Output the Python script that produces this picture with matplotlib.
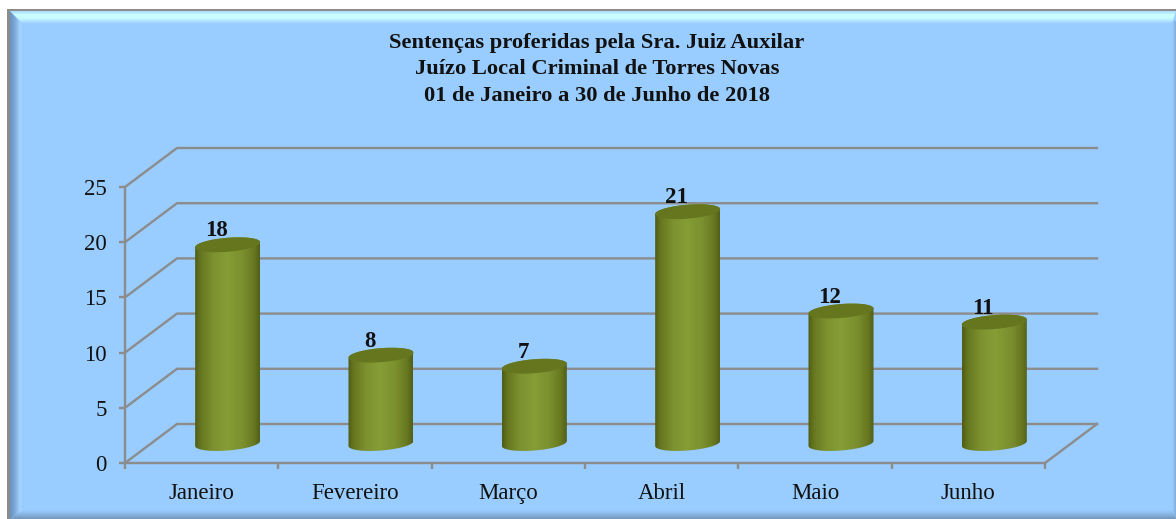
import numpy as np
import matplotlib
matplotlib.use("Agg")
import matplotlib.pyplot as plt
from matplotlib.patches import Rectangle, Polygon
from matplotlib.colors import LinearSegmentedColormap

months = ["Janeiro", "Fevereiro", "Março", "Abril", "Maio", "Junho"]
values = [18, 8, 7, 21, 12, 11]
yticks = [0, 5, 10, 15, 20, 25]
title = ("Sentenças proferidas pela Sra. Juiz Auxilar\n"
         "Juízo Local Criminal de Torres Novas\n"
         "01 de Janeiro a 30 de Junho de 2018")

W, H = 1176, 519
FONT = "Liberation Serif"
GRID = "#8c8c8c"
fig = plt.figure(figsize=(W / 100, H / 100), dpi=100, facecolor="white")

# background frame in pixel coordinates
bg = fig.add_axes([0, 0, 1, 1])
bg.set_xlim(0, W); bg.set_ylim(H, 0); bg.axis("off")
L, T, R, B = 10, 11, 1176, 519
bev = 13
bg.add_patch(Rectangle((7, 9), R - 7, B - 9, fc="#8c8c8c", ec="none", zorder=0))
bg.add_patch(Rectangle((L, T), R - L, B - T, fc="#99ccff", ec="none", zorder=1))
top = LinearSegmentedColormap.from_list("t", [(0, "#a8dcff"), (0.3, "#ccffff"), (0.6, "#c4f8ff"), (1, "#99ccff")])
left = LinearSegmentedColormap.from_list("l", [(0, "#6a94bf"), (0.35, "#7aa8d8"), (0.8, "#a4d4ff"), (1, "#99ccff")])
right = LinearSegmentedColormap.from_list("r", ["#99ccff", "#90c0f0", "#80acd8"])
bot = LinearSegmentedColormap.from_list("b", ["#99ccff", "#88b4e0", "#7396bb"])
im = bg.imshow(np.linspace(0, 1, 32)[None, :], extent=(L, L + bev, B, T), cmap=left, aspect="auto", zorder=2)
im.set_clip_path(Polygon([(L, T), (L + bev, T + bev), (L + bev, B - 9), (L, B)], transform=bg.transData))
im = bg.imshow(np.linspace(0, 1, 32)[:, None], extent=(L, R, T + bev, T), cmap=top, aspect="auto", zorder=3, origin="upper")
im.set_clip_path(Polygon([(L, T), (R, T), (R - 4, T + bev), (L + bev, T + bev)], transform=bg.transData))
im = bg.imshow(np.linspace(0, 1, 32)[:, None], extent=(L, R, B, B - 9), cmap=bot, aspect="auto", zorder=3, origin="upper")
im.set_clip_path(Polygon([(L, B), (L + bev, B - 9), (R - 4, B - 9), (R, B)], transform=bg.transData))
im = bg.imshow(np.linspace(0, 1, 32)[None, :], extent=(R - 4, R, B, T + 10), cmap=right, aspect="auto", zorder=2)
bg.set_xlim(0, W); bg.set_ylim(H, 0)

# plot axes: front plane of the 3D box
x0, x1, ytop, ybot = 125, 1045, 187, 463
ax = fig.add_axes([x0 / W, 1 - ybot / H, (x1 - x0) / W, (ybot - ytop) / H])
ax.patch.set_alpha(0)
for s in ax.spines.values():
    s.set_visible(False)

n = len(months)
px = n / (x1 - x0)
py = yticks[-1] / (ybot - ytop)
dx, dy = 52 * px, 39 * py   # depth offset
LW = 1.7

for v in yticks:
    ax.plot([0, dx, n + dx], [v, v + dy, v + dy], color=GRID, lw=LW, clip_on=False,
            solid_joinstyle="miter", zorder=1)
ax.plot([n, n + dx], [0, dy], color=GRID, lw=LW, clip_on=False, zorder=1)
ax.plot([0, n], [0, 0], color=GRID, lw=LW, clip_on=False, zorder=1)
ax.plot([0, 0], [0, yticks[-1]], color=GRID, lw=LW, clip_on=False, zorder=1)

ax.set_yticks(yticks)
ax.set_yticklabels([str(v) for v in yticks], family=FONT, fontsize=16.5, color="#111111")
ax.set_xticks(range(n + 1))
ax.set_xticklabels([""] * (n + 1))
ax.tick_params(axis="both", color=GRID, width=LW, length=4.5)
ax.tick_params(axis="y", pad=8.5)

for i, m in enumerate(months):
    ax.annotate(m, (i + 0.5, 0), xytext=(0, -22), textcoords="offset points",
                ha="center", va="center", family=FONT, fontsize=16.5, color="#111111", annotation_clip=False)

cyl = LinearSegmentedColormap.from_list("c", [(0, "#4f5c17"), (0.08, "#66761f"), (0.28, "#7d9130"),
                                             (0.50, "#869e36"), (0.75, "#7a8e2e"), (0.92, "#66761f"),
                                             (1, "#525f18")])
bw, eh, tilt = 65 * px, 14 * py, 5 * py   # body width, ellipse height, tilt
ang = np.linspace(0, 2 * np.pi, 73)


def rim(a, cx, cy):
    return cx + bw / 2 * np.cos(a), cy + eh / 2 * np.sin(a) + tilt / 2 * np.cos(a)


for i, v in enumerate(values):
    cx = i + 0.5 + dx / 2
    b, t = dy / 2, v + dy / 2
    xb, yb = rim(np.linspace(np.pi, 2 * np.pi, 40), cx, b)
    xt, yt = rim(np.linspace(0, np.pi, 40), cx, t)
    poly = Polygon(np.c_[np.r_[xb, xt], np.r_[yb, yt]], closed=True, transform=ax.transData,
                   fc="none", ec="none")
    ax.add_patch(poly)
    im = ax.imshow(np.linspace(0, 1, 128)[None, :], extent=(cx - bw / 2, cx + bw / 2, b - eh, t + eh),
                   cmap=cyl, aspect="auto", zorder=3)
    im.set_clip_path(poly)
    ex, ey = rim(ang, cx, t)
    ax.add_patch(Polygon(np.c_[ex, ey], closed=True, fc="#66761f", ec="none", zorder=4, clip_on=False))
    ax.annotate(str(v), (cx - 11 * px, t + eh / 2), xytext=(0, 5), textcoords="offset points",
                ha="center", va="center", family=FONT, fontsize=16.5, fontweight="bold", color="#111111",
                zorder=5, annotation_clip=False)

ax.set_xlim(0, n); ax.set_ylim(0, yticks[-1])

fig.text(597 / W, 1 - 69.5 / H, title, ha="center", va="center", family=FONT, fontsize=16.2,
         fontweight="bold", color="#111111", linespacing=1.42)

fig.savefig("out.png", dpi=100, facecolor="white")
